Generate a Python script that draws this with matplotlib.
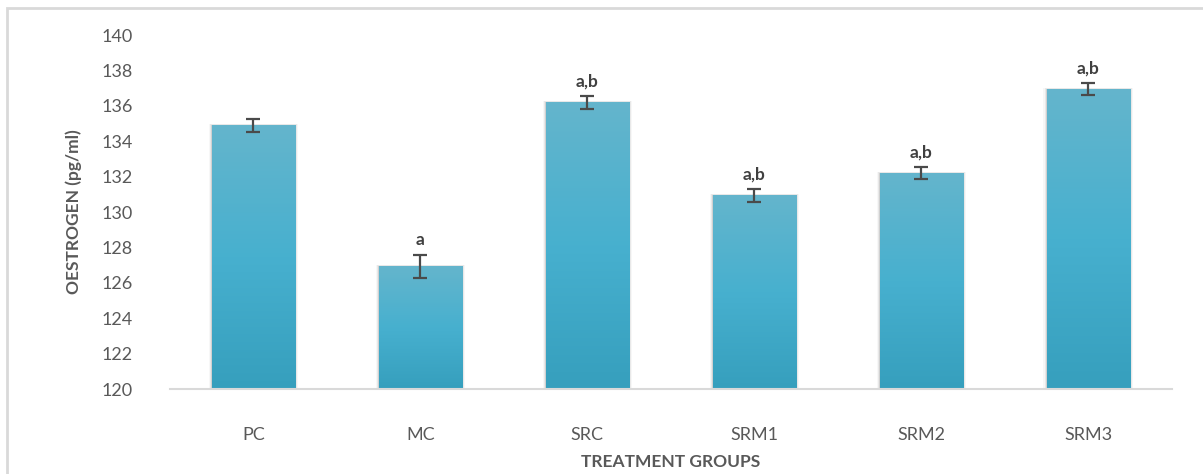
import numpy as np
import matplotlib.pyplot as plt
from matplotlib.colors import LinearSegmentedColormap
from matplotlib.patches import Rectangle

groups = ['PC', 'MC', 'SRC', 'SRM1', 'SRM2', 'SRM3']
oestrogen = [134.9, 126.95, 136.2, 130.95, 132.2, 136.95]
sem = [0.35, 0.65, 0.35, 0.38, 0.35, 0.35]
letters = ['', 'a', 'a,b', 'a,b', 'a,b', 'a,b']

plt.rcParams['font.family'] = ['Lato', 'DejaVu Sans']
grey = '#595959'

fig = plt.figure(figsize=(12.03, 4.74), dpi=100)
ax = fig.add_axes([0.1413, 0.1793, 0.8327, 0.7467])

# light frame around the chart area
fig.patches.append(Rectangle((7 / 1203, -0.1), 1.2, (474 - 8) / 474 + 0.1,
                             transform=fig.transFigure, fill=False,
                             edgecolor='#d9d9d9', linewidth=2))

x = np.arange(len(groups))
width = 0.5
cmap = LinearSegmentedColormap.from_list('bar', ['#369fbd', '#47b0cf', '#64b5cc'])
grad = np.linspace(0, 1, 256).reshape(-1, 1)

bars = ax.bar(x, [v - 120 for v in oestrogen], width, bottom=120,
              color='#48afcd', zorder=2)
for b in bars:
    # soft shadow behind each bar
    for k, a in enumerate([0.10, 0.06, 0.03]):
        off = 0.006 * (k + 1)
        ax.add_patch(Rectangle((b.get_x() - off, 120), b.get_width() + 2 * off,
                               b.get_height() + off * 4, color='#000000',
                               alpha=a, zorder=1, linewidth=0))
    im = ax.imshow(grad, cmap=cmap, aspect='auto', origin='lower',
                   extent=[b.get_x(), b.get_x() + b.get_width(), 120, 120 + b.get_height()],
                   zorder=2.5)
    im.set_clip_path(b)

ax.errorbar(x, oestrogen, yerr=sem, fmt='none', ecolor='#4a4a4a',
            elinewidth=1.6, capsize=5, capthick=1.6, zorder=3)

for xi, v, e, t in zip(x, oestrogen, sem, letters):
    if t:
        ax.text(xi, v + e + 0.35, t, ha='center', va='bottom', fontsize=12.5,
                fontweight='bold', color='#404040')

ax.set_xlim(-0.5, len(groups) - 0.5)
ax.set_ylim(120, 140)
ax.set_yticks(range(120, 141, 2))
ax.set_xticks(x)
ax.set_xticklabels(groups)
ax.tick_params(axis='both', length=0, labelsize=13, colors=grey)
ax.tick_params(axis='x', pad=27)
ax.tick_params(axis='y', pad=27)
for s in ['top', 'right', 'left']:
    ax.spines[s].set_visible(False)
ax.spines['bottom'].set_color('#d9d9d9')
ax.spines['bottom'].set_linewidth(1.5)

ax.set_ylabel('OESTROGEN (pg/ml)', fontsize=12.5, fontweight='bold', color=grey, labelpad=14)
ax.set_xlabel('TREATMENT GROUPS', fontsize=12.5, fontweight='bold', color=grey, labelpad=8)

fig.savefig('out.png', dpi=100)
